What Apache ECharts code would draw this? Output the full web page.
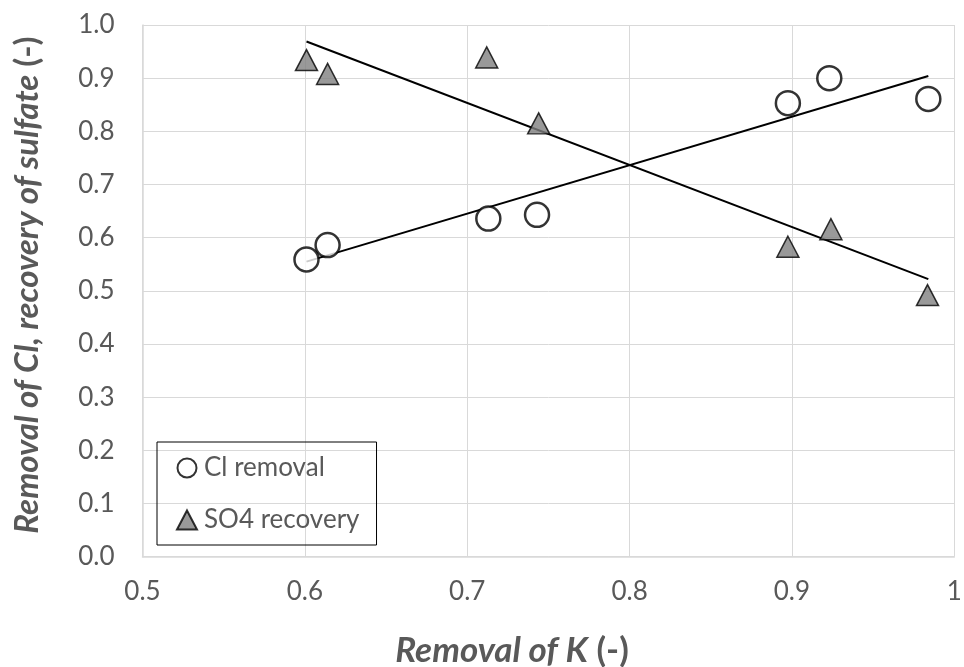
<!DOCTYPE html>
<html>
<head>
<meta charset="utf-8">
<script src="https://cdn.jsdelivr.net/npm/echarts@6/dist/echarts.min.js"></script>
<style>
  html, body { margin: 0; padding: 0; background: #fff; }
  #chart { width: 964px; height: 667px; }
</style>
</head>
<body>
<div id="chart"></div>
<script>
// Removal of K (x) against Cl removal and sulfate recovery (y)
const kRemoval = [0.601, 0.614, 0.713, 0.743, 0.8975, 0.923, 0.984];
const clRemoval = [0.559, 0.586, 0.636, 0.643, 0.853, 0.900, 0.861];
const kRemovalSO4 = [0.601, 0.614, 0.712, 0.744, 0.8975, 0.924, 0.9835];
const so4Recovery = [0.934, 0.908, 0.939, 0.815, 0.583, 0.616, 0.492];

// Linear trend line end points
const clTrendX = [0.601, 0.984];
const clTrendY = [0.555, 0.904];
const so4TrendX = [0.601, 0.984];
const so4TrendY = [0.969, 0.522];

const xTicks = [0.5, 0.6, 0.7, 0.8, 0.9, 1];
const yTicks = [0.0, 0.1, 0.2, 0.3, 0.4, 0.5, 0.6, 0.7, 0.8, 0.9, 1.0];

const xTitle = 'Removal of K';
const yTitle = 'Removal of Cl, recovery of sulfate';
const unit = '(-)';

const pairs = (xs, ys) => xs.map((x, i) => [x, ys[i]]);

const FONT = 'Lato';
const TEXT = '#595959';
const GRID = '#d9d9d9';

const titleRich = size => ({
  i: { fontFamily: FONT, fontSize: size, fontWeight: 'bold', fontStyle: 'italic', fill: TEXT, color: TEXT },
  n: { fontFamily: FONT, fontSize: size, fontWeight: 'bold', fill: TEXT, color: TEXT }
});

const chart = echarts.init(document.getElementById('chart'));
chart.setOption({
  animation: false,
  backgroundColor: '#fff',
  grid: {
    left: 142.5, right: 9.7, top: 25, bottom: 110.3,
    containLabel: false,
    outerBoundsMode: 'none'
  },
  // axis titles
  graphic: [
    {
      type: 'text',
      x: 512,
      y: 651,
      style: {
        text: '{i|' + xTitle + '} {n|' + unit + '}',
        rich: titleRich(35),
        font: 'bold 35px ' + FONT,
        fill: TEXT,
        align: 'center',
        verticalAlign: 'middle'
      }
    },
    {
      type: 'text',
      x: 27,
      y: 285,
      rotation: Math.PI / 2,
      style: {
        text: '{i|' + yTitle + '} {n|' + unit + '}',
        rich: titleRich(33),
        font: 'bold 33px ' + FONT,
        fill: TEXT,
        align: 'center',
        verticalAlign: 'middle'
      }
    }
  ],
  legend: {
    orient: 'vertical',
    left: 157,
    top: 442,
    padding: [13, 17, 12, 19],
    itemGap: 26,
    borderColor: '#000',
    borderWidth: 1,
    itemWidth: 20,
    itemHeight: 19,
    textStyle: { fontFamily: FONT, fontSize: 26, color: TEXT, padding: [0, 0, 0, 2] },
    data: [
      { name: 'Cl removal', icon: 'circle' },
      { name: 'SO4 recovery', icon: 'triangle' }
    ]
  },
  xAxis: {
    type: 'value',
    min: xTicks[0],
    max: xTicks[xTicks.length - 1],
    interval: 0.1,
    axisLine: { show: true, lineStyle: { color: GRID, width: 1.5 } },
    axisTick: { show: false },
    splitLine: { show: true, lineStyle: { color: GRID, width: 1 } },
    axisLabel: {
      fontFamily: FONT, fontSize: 26, color: TEXT, margin: 22,
      formatter: v => (Math.abs(v - 1) < 1e-9 ? '1' : v.toFixed(1))
    }
  },
  yAxis: {
    type: 'value',
    min: yTicks[0],
    max: yTicks[yTicks.length - 1],
    interval: 0.1,
    axisLine: { show: true, lineStyle: { color: GRID, width: 1.5 } },
    axisTick: { show: false },
    splitLine: { show: true, lineStyle: { color: GRID, width: 1 } },
    axisLabel: {
      fontFamily: FONT, fontSize: 26, color: TEXT, margin: 28,
      formatter: v => v.toFixed(1)
    }
  },
  series: [
    {
      name: 'Cl trend',
      type: 'line',
      data: pairs(clTrendX, clTrendY),
      showSymbol: false,
      symbol: 'none',
      lineStyle: { color: '#000', width: 2 },
      z: 2,
      silent: true
    },
    {
      name: 'SO4 trend',
      type: 'line',
      data: pairs(so4TrendX, so4TrendY),
      showSymbol: false,
      symbol: 'none',
      lineStyle: { color: '#000', width: 2 },
      z: 2,
      silent: true
    },
    {
      name: 'Cl removal',
      type: 'scatter',
      data: pairs(kRemoval, clRemoval),
      symbol: 'circle',
      symbolSize: 24,
      itemStyle: { color: '#fff', borderColor: '#000', borderWidth: 2.5 },
      z: 3
    },
    {
      name: 'SO4 recovery',
      type: 'scatter',
      data: pairs(kRemovalSO4, so4Recovery),
      symbol: 'triangle',
      symbolSize: [22, 21],
      itemStyle: { color: '#7f7f7f', borderColor: '#000', borderWidth: 1.5 },
      z: 3
    }
  ]
});
</script>
</body>
</html>
